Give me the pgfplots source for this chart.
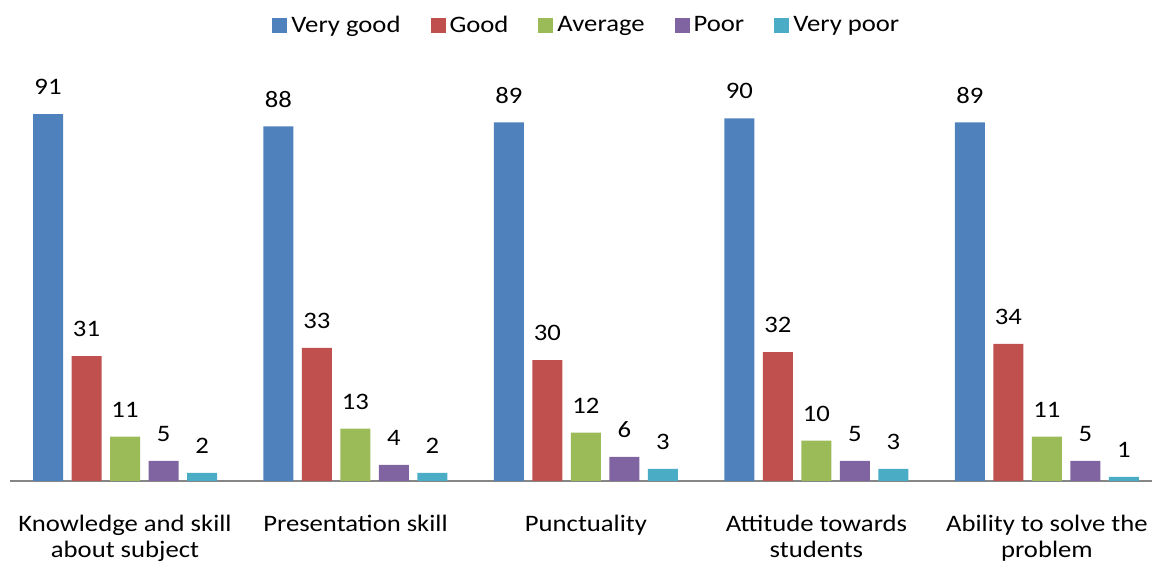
\documentclass[border=0pt]{standalone}
\usepackage{fontspec}
\setmainfont{Carlito}[FakeStretch=1.13]
\usepackage{pgfplots}
\pgfplotsset{compat=1.18}

\definecolor{cBlue}{HTML}{4F81BD}
\definecolor{cRed}{HTML}{C0504D}
\definecolor{cGreen}{HTML}{9BBB59}
\definecolor{cPurple}{HTML}{8064A2}
\definecolor{cCyan}{HTML}{4BACC6}
\definecolor{axisgray}{HTML}{868686}

\begin{document}
\begin{tikzpicture}
\begin{axis}[
  scale only axis,
  width=571pt, height=201.5pt,
  xmin=-0.499, xmax=4.456,
  ymin=0, ymax=100,
  ybar=4.25pt, bar width=15pt,
  axis x line*=bottom, axis y line=none,
  x axis line style={axisgray, line width=0.8pt},
  major tick length=0pt,
  xtick={0,1,2,3,4},
  xticklabels={Knowledge and skill\\about subject, Presentation skill, Punctuality,
               Attitude towards\\students, Ability to solve the\\problem},
  xticklabel style={align=center, anchor=north, yshift=-13.5pt,
                    font=\fontsize{11.8}{13.2}\selectfont},
  /pgf/number format/assume math mode=true,
  nodes near coords,
  every node near coord/.append style={anchor=center, yshift=13.5pt,
                    font=\fontsize{11.8}{13}\selectfont, black},
  legend columns=-1,
  legend style={at={(0.506,1.13)}, anchor=center, draw=none, fill=none,
                font=\fontsize{11.8}{13}\selectfont,
                /tikz/every even column/.append style={column sep=13pt}},
  legend image code/.code={\fill[#1] (0pt,-3.5pt) rectangle (7.5pt,4pt);},
  clip=false,
]
\addplot[fill=cBlue, draw=none] coordinates {(0,91) (1,88) (2,89) (3,90) (4,89)};
\addlegendentry{Very good}
\addplot[fill=cRed, draw=none] coordinates {(0,31) (1,33) (2,30) (3,32) (4,34)};
\addlegendentry{Good}
\addplot[fill=cGreen, draw=none] coordinates {(0,11) (1,13) (2,12) (3,10) (4,11)};
\addlegendentry{Average}
\addplot[fill=cPurple, draw=none] coordinates {(0,5) (1,4) (2,6) (3,5) (4,5)};
\addlegendentry{Poor}
\addplot[fill=cCyan, draw=none] coordinates {(0,2) (1,2) (2,3) (3,3) (4,1)};
\addlegendentry{Very poor}
\coordinate (bbll) at (rel axis cs:-0.00876,-0.2134);
\coordinate (bbur) at (rel axis cs:1.00263,1.1935);
\end{axis}
\pgfresetboundingbox
\path[use as bounding box] (bbll) rectangle (bbur);
\end{tikzpicture}
\end{document}
